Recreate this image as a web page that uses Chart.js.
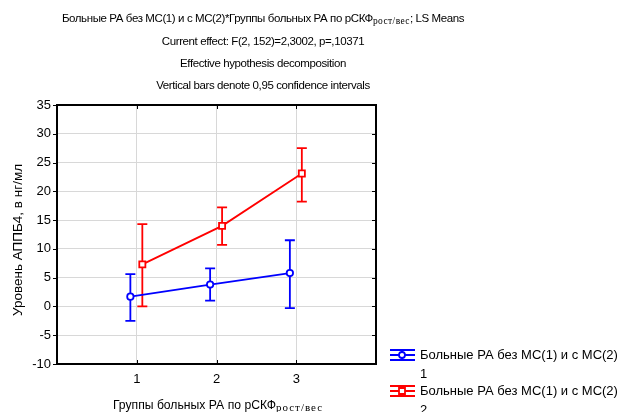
<!DOCTYPE html>
<html>
<head>
<meta charset="utf-8">
<script src="https://cdn.jsdelivr.net/npm/chart.js@4/dist/chart.umd.min.js"></script>
<style>
html,body{margin:0;padding:0;background:#fff;}
#wrap{width:624px;height:412px;position:relative;}
</style>
</head>
<body>
<div id="wrap"><canvas id="c" width="624" height="412"></canvas></div>
<script>
// ---- data ----
const groups = [1, 2, 3];
const yTickValues = [-10, -5, 0, 5, 10, 15, 20, 25, 30, 35];
const seriesNames = ['Больные РА без МС(1) и с МС(2)', 'Больные РА без МС(1) и с МС(2)'];
const seriesLevels = ['1', '2'];
const blueMeans = [1.7, 3.8, 5.8];
const blueLower = [-2.5, 1.0, -0.3];
const blueUpper = [5.6, 6.6, 11.5];
const redMeans = [7.3, 14.0, 23.1];
const redLower = [0.0, 10.7, 18.2];
const redUpper = [14.3, 17.2, 27.5];
const titleLines = [
  ['Больные РА без МС(1) и с МС(2)*Группы больных РА по рСКФ', 'рост/вес', '; LS Means'],
  ['Current effect: F(2, 152)=2,3002, p=,10371'],
  ['Effective hypothesis decomposition'],
  ['Vertical bars denote 0,95 confidence intervals']
];
const xTitle = ['Группы больных РА по рСКФ', 'рост/вес'];
const yTitle = 'Уровень АППБ4, в нг/мл';

const FONT = "'Liberation Sans', Arial, sans-serif";
const SUBFONT = "'Liberation Serif', 'Times New Roman', serif";
const BLUE = '#0000ff', RED = '#ff0000';
const offsets = [-0.08, 0.07];

function pts(means, off) { return groups.map((g, i) => ({ x: g + off, y: means[i] })); }

const errData = [
  { lower: blueLower, upper: blueUpper, color: BLUE, off: offsets[0] },
  { lower: redLower, upper: redUpper, color: RED, off: offsets[1] }
];

function drawMixed(ctx, parts, cx, cy, size, subSize, mainLS, subLS) {
  const fonts = parts.map((p, i) => i % 2 === 1 ? (subSize + 'px ' + SUBFONT) : (size + 'px ' + FONT));
  const ls = parts.map((p, i) => i % 2 === 1 ? subLS : mainLS);
  let total = 0;
  const widths = parts.map((p, i) => {
    ctx.font = fonts[i]; ctx.letterSpacing = ls[i] + 'px';
    const w = ctx.measureText(p).width; total += w; return w;
  });
  let x = cx - total / 2;
  ctx.textAlign = 'left';
  ctx.textBaseline = 'alphabetic';
  parts.forEach((p, i) => {
    ctx.font = fonts[i]; ctx.letterSpacing = ls[i] + 'px';
    ctx.fillText(p, x, cy + (i % 2 === 1 ? 2 : 0));
    x += widths[i];
  });
  ctx.letterSpacing = '0px';
}

const decor = {
  id: 'decor',
  beforeDatasetsDraw(chart) {
    const { ctx, scales: { x, y } } = chart;
    ctx.save();
    ctx.lineWidth = 1.8;
    errData.forEach(e => {
      ctx.strokeStyle = e.color;
      groups.forEach((g, i) => {
        const px = x.getPixelForValue(g + e.off);
        const y1 = y.getPixelForValue(e.lower[i]);
        const y2 = y.getPixelForValue(e.upper[i]);
        ctx.beginPath();
        ctx.moveTo(px, y1); ctx.lineTo(px, y2);
        ctx.moveTo(px - 5, y1); ctx.lineTo(px + 5, y1);
        ctx.moveTo(px - 5, y2); ctx.lineTo(px + 5, y2);
        ctx.stroke();
      });
    });
    ctx.restore();
  },
  afterDraw(chart) {
    const { ctx, chartArea: a, scales: { x, y } } = chart;
    ctx.save();
    // frame
    ctx.strokeStyle = '#000';
    ctx.lineWidth = 2;
    ctx.strokeRect(a.left, a.top, a.right - a.left, a.bottom - a.top);
    ctx.lineWidth = 1;
    ctx.beginPath();
    yTickValues.forEach(v => {
      const py = Math.round(y.getPixelForValue(v)) + 0.5;
      ctx.moveTo(a.left - 4, py); ctx.lineTo(a.left, py);
      ctx.moveTo(a.right - 4, py); ctx.lineTo(a.right, py);
    });
    groups.forEach(g => {
      const px = Math.round(x.getPixelForValue(g)) + 0.5;
      ctx.moveTo(px, a.bottom); ctx.lineTo(px, a.bottom - 4);
      ctx.moveTo(px, a.top); ctx.lineTo(px, a.top + 4);
    });
    ctx.stroke();
    // titles
    ctx.fillStyle = '#000';
    const ty = [22, 45, 67, 89];
    titleLines.forEach((ln, i) => drawMixed(ctx, ln, 263, ty[i], 11.5, 9.5, -0.4, 0.4));
    // x title
    drawMixed(ctx, xTitle, 218, 409, 12.2, 11, 0, 1);
    // y title
    ctx.save();
    ctx.translate(22, 240);
    ctx.rotate(-Math.PI / 2);
    ctx.font = '13.5px ' + FONT;
    ctx.textAlign = 'center';
    ctx.textBaseline = 'alphabetic';
    ctx.fillText(yTitle, 0, 0);
    ctx.restore();
    // legend
    const legY = [355, 391];
    const cols = [BLUE, RED];
    legY.forEach((ly, i) => {
      ctx.strokeStyle = cols[i];
      ctx.lineWidth = 1.8;
      ctx.beginPath();
      ctx.moveTo(390, ly - 5); ctx.lineTo(415, ly - 5);
      ctx.moveTo(390, ly); ctx.lineTo(415, ly);
      ctx.moveTo(390, ly + 5); ctx.lineTo(415, ly + 5);
      ctx.moveTo(402, ly - 5); ctx.lineTo(402, ly + 5);
      ctx.stroke();
      ctx.fillStyle = '#fff';
      ctx.beginPath();
      if (i === 0) { ctx.arc(402, ly, 3, 0, Math.PI * 2); }
      else { ctx.rect(399, ly - 3, 6, 6); }
      ctx.fill(); ctx.stroke();
      ctx.fillStyle = '#000';
      ctx.font = '13px ' + FONT;
      ctx.textAlign = 'left';
      ctx.textBaseline = 'middle';
      ctx.fillText(seriesNames[i], 420, ly);
      ctx.fillText(seriesLevels[i], 420, ly + 19);
    });
    ctx.restore();
  }
};

new Chart(document.getElementById('c'), {
  type: 'line',
  data: {
    datasets: [
      {
        label: seriesNames[0] + ' ' + seriesLevels[0],
        data: pts(blueMeans, offsets[0]),
        borderColor: BLUE, borderWidth: 1.8,
        pointStyle: 'circle', pointRadius: 3.2, pointBorderWidth: 1.8,
        pointBackgroundColor: '#fff', pointBorderColor: BLUE, tension: 0
      },
      {
        label: seriesNames[1] + ' ' + seriesLevels[1],
        data: pts(redMeans, offsets[1]),
        borderColor: RED, borderWidth: 1.8,
        pointStyle: 'rect', pointRadius: 4.3, pointBorderWidth: 1.8,
        pointBackgroundColor: '#fff', pointBorderColor: RED, tension: 0
      }
    ]
  },
  options: {
    responsive: false,
    animation: false,
    devicePixelRatio: 1,
    layout: { padding: { left: 0, top: 105, right: 248, bottom: 0 } },
    plugins: { legend: { display: false }, title: { display: false }, tooltip: { enabled: false } },
    scales: {
      x: {
        type: 'linear', min: 0, max: 4,
        afterBuildTicks: s => { s.ticks = groups.map(v => ({ value: v })); },
        afterFit: s => { s.height = 48; },
        grid: { color: '#d8d8d8', lineWidth: 1, drawTicks: false },
        border: { display: false },
        ticks: { font: { family: FONT, size: 13 }, color: '#000', padding: 8, maxRotation: 0 }
      },
      y: {
        type: 'linear', min: -10, max: 35,
        afterBuildTicks: s => { s.ticks = yTickValues.map(v => ({ value: v })); },
        afterFit: s => { s.width = 57; },
        grid: { color: '#d8d8d8', lineWidth: 1, drawTicks: false },
        border: { display: false },
        ticks: { font: { family: FONT, size: 13 }, color: '#000', padding: 6 }
      }
    }
  },
  plugins: [decor]
});
</script>
</body>
</html>
